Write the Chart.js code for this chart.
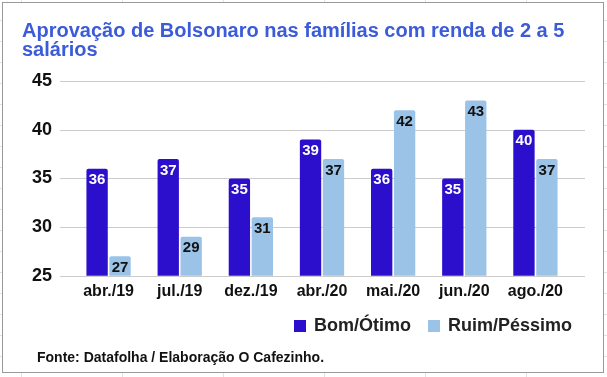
<!DOCTYPE html>
<html>
<head>
<meta charset="utf-8">
<script src="https://cdn.jsdelivr.net/npm/chart.js@4.4.0/dist/chart.umd.min.js"></script>
<style>
  body {
    margin: 0;
    width: 607px;
    height: 377px;
    overflow: hidden;
    background-color: #fff;
    background-image:
      linear-gradient(to right, #e2e2e2 1px, transparent 1px),
      linear-gradient(to bottom, #e2e2e2 1px, transparent 1px);
    background-size: 101px 21px;
    background-position: 21px 20px;
    font-family: "Liberation Sans", Arial, sans-serif;
  }
  #box {
    position: absolute;
    left: 2px;
    top: 2px;
    width: 600px;
    height: 369px;
    border: 1px solid #9a9a9a;
    background: #fff;
  }
  #grafico { position: absolute; left: 0; top: 0; }
  #legenda {
    position: absolute;
    left: 291px;
    top: 312px;
    font-size: 18px;
    line-height: 21px;
    font-weight: bold;
    color: #222;
    white-space: nowrap;
  }
  #legenda span.q {
    display: inline-block;
    width: 12px;
    height: 12px;
    margin-right: 8px;
    vertical-align: -1px;
  }
  #legenda span.item { margin-right: 17px; }
  #fonte {
    position: absolute;
    left: 34px;
    top: 346px;
    font-size: 14px;
    line-height: 16px;
    font-weight: bold;
    color: #111;
  }
</style>
</head>
<body>
<div id="box">
  <canvas id="grafico" width="600" height="369"></canvas>
  <div id="legenda"></div>
  <div id="fonte">Fonte: Datafolha / Elaboração O Cafezinho.</div>
</div>
<script>
// dados
var meses = ["abr./19", "jul./19", "dez./19", "abr./20", "mai./20", "jun./20", "ago./20"];
var bomOtimo = [36, 37, 35, 39, 36, 35, 40];
var ruimPessimo = [27, 29, 31, 37, 42, 43, 37];
var nomesSeries = ["Bom/Ótimo", "Ruim/Péssimo"];
var coresSeries = ["#2c0fcc", "#9bc3e8"];
var coresRotulo = ["#ffffff", "#111111"];
var ticksY = [25, 30, 35, 40, 45];

var fonte = "'Liberation Sans', Arial, sans-serif";

// legenda em html
var leg = document.getElementById("legenda");
for (var i = 0; i < nomesSeries.length; i++) {
  var it = document.createElement("span");
  it.className = "item";
  var q = document.createElement("span");
  q.className = "q";
  q.style.background = coresSeries[i];
  it.appendChild(q);
  it.appendChild(document.createTextNode(nomesSeries[i]));
  leg.appendChild(it);
}

// linhas de grade que passam um pouco da area do grafico
var grade = {
  id: "grade",
  beforeDatasetsDraw: function (chart) {
    var ctx = chart.ctx, y = chart.scales.y, a = chart.chartArea;
    ctx.save();
    ctx.strokeStyle = "#cccccc";
    ctx.lineWidth = 1;
    ticksY.forEach(function (v) {
      var py = Math.round(y.getPixelForValue(v)) + 0.5;
      ctx.beginPath();
      ctx.moveTo(a.left - 13, py);
      ctx.lineTo(a.right + 14, py);
      ctx.stroke();
    });
    ctx.restore();
  }
};

// valores dentro das barras
var rotulos = {
  id: "rotulos",
  afterDatasetsDraw: function (chart) {
    var ctx = chart.ctx;
    ctx.save();
    ctx.font = "bold 15px " + fonte;
    ctx.textAlign = "center";
    ctx.textBaseline = "middle";
    chart.data.datasets.forEach(function (ds, d) {
      chart.getDatasetMeta(d).data.forEach(function (bar, i) {
        ctx.fillStyle = coresRotulo[d];
        ctx.fillText(ds.data[i], bar.x, bar.y + 11.5);
      });
    });
    ctx.restore();
  }
};

new Chart(document.getElementById("grafico"), {
  type: "bar",
  data: {
    labels: meses,
    datasets: [
      { label: nomesSeries[0], data: bomOtimo, backgroundColor: coresSeries[0] },
      { label: nomesSeries[1], data: ruimPessimo, backgroundColor: coresSeries[1] }
    ]
  },
  options: {
    responsive: false,
    animation: false,
    events: [],
    categoryPercentage: 0.645,
    barPercentage: 0.93,
    borderRadius: 2,
    borderSkipped: "bottom",
    layout: { padding: { left: 19, right: 32, top: 0, bottom: 65 } },
    plugins: {
      legend: { display: false },
      tooltip: { enabled: false },
      title: {
        display: true,
        text: ["Aprovação de Bolsonaro nas famílias com renda de 2 a 5", "salários"],
        align: "start",
        color: "#3c5bd8",
        font: { family: fonte, size: 20, weight: "bold", lineHeight: 0.95 },
        padding: { top: 19, bottom: 21 }
      }
    },
    scales: {
      x: {
        grid: { display: false, drawTicks: false },
        border: { display: false },
        ticks: { color: "#111", padding: 6, font: { family: fonte, size: 16, weight: "bold" } }
      },
      y: {
        min: 25,
        max: 45,
        afterFit: function (s) { s.width = 51; },
        afterBuildTicks: function (s) { s.ticks = ticksY.map(function (v) { return { value: v }; }); },
        grid: { display: false, drawTicks: false },
        border: { display: false },
        ticks: { color: "#111", padding: 21, font: { family: fonte, size: 18, weight: "bold" } }
      }
    }
  },
  plugins: [grade, rotulos]
});
</script>
</body>
</html>
